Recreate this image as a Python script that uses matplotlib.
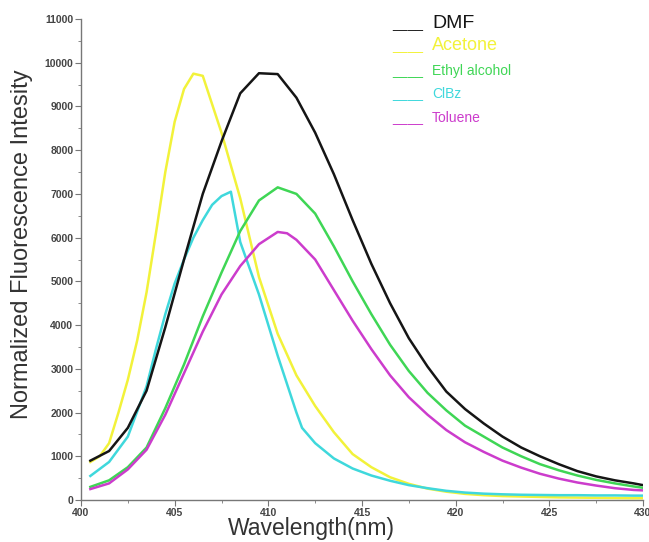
import matplotlib
matplotlib.use("Agg")
import matplotlib.pyplot as plt
from matplotlib.ticker import MultipleLocator

plt.rcParams['font.family'] = ['Liberation Sans', 'DejaVu Sans']

# ---------------- data ----------------
wl_dmf = [400.5, 401.5, 402.5, 403.5, 404.5, 405.5, 406.5, 407.5, 408.5, 409.5, 410.5,
          411.5, 412.5, 413.5, 414.5, 415.5, 416.5, 417.5, 418.5, 419.5, 420.5, 421.5,
          422.5, 423.5, 424.5, 425.5, 426.5, 427.5, 428.5, 429.5, 430.0]
dmf = [900, 1120, 1650, 2500, 3950, 5500, 7000, 8200, 9300, 9760, 9740,
       9200, 8400, 7450, 6400, 5400, 4500, 3700, 3050, 2480, 2080, 1750,
       1450, 1200, 1000, 820, 660, 540, 450, 380, 340]

wl_ace = [400.5, 401.0, 401.5, 402.0, 402.5, 403.0, 403.5, 404.0, 404.5, 405.0, 405.5,
          406.0, 406.5, 407.5, 408.5, 409.5, 410.5, 411.5, 412.5, 413.5, 414.5, 415.5,
          416.5, 417.5, 418.5, 419.5, 420.5, 421.5, 422.5, 423.5, 424.5, 425.5, 426.5,
          427.5, 428.5, 429.5, 430.0]
acetone = [870, 1000, 1300, 2000, 2750, 3650, 4750, 6100, 7500, 8650, 9400,
           9750, 9700, 8400, 6900, 5100, 3800, 2850, 2150, 1550, 1050, 750,
           520, 370, 260, 190, 140, 110, 90, 80, 70, 60, 55,
           50, 45, 40, 40]

wl_eth = [400.5, 401.5, 402.5, 403.5, 404.5, 405.5, 406.5, 407.5, 408.5, 409.5, 410.5,
          411.5, 412.5, 413.5, 414.5, 415.5, 416.5, 417.5, 418.5, 419.5, 420.5, 421.5,
          422.5, 423.5, 424.5, 425.5, 426.5, 427.5, 428.5, 429.5, 430.0]
ethanol = [300, 450, 750, 1200, 2100, 3100, 4200, 5200, 6150, 6850, 7150,
           7000, 6550, 5800, 5000, 4250, 3550, 2950, 2450, 2050, 1700, 1450,
           1200, 1000, 820, 680, 560, 460, 380, 310, 280]

wl_clbz = [400.5, 401.5, 402.5, 403.5, 404.0, 404.5, 405.0, 405.5, 406.0, 406.5, 407.0,
           407.5, 408.0, 408.5, 409.5, 410.5, 411.5, 411.8, 412.5, 413.5, 414.5, 415.5,
           416.5, 417.5, 418.5, 419.5, 420.5, 421.5, 422.5, 423.5, 424.5, 425.5, 426.5,
           427.5, 428.5, 429.5, 430.0]
clbz = [550, 870, 1450, 2600, 3450, 4250, 4950, 5500, 6000, 6400, 6750,
        6950, 7050, 5900, 4700, 3300, 2000, 1650, 1300, 950, 720, 560,
        440, 340, 270, 210, 170, 145, 130, 120, 115, 110, 110,
        105, 105, 100, 100]

wl_tol = [400.5, 401.5, 402.5, 403.5, 404.5, 405.5, 406.5, 407.5, 408.5, 409.5, 410.5,
          411.0, 411.5, 412.5, 413.5, 414.5, 415.5, 416.5, 417.5, 418.5, 419.5, 420.5,
          421.5, 422.5, 423.5, 424.5, 425.5, 426.5, 427.5, 428.5, 429.5, 430.0]
toluene = [250, 380, 700, 1150, 1950, 2900, 3850, 4700, 5350, 5850, 6130,
           6100, 5950, 5500, 4800, 4100, 3450, 2850, 2350, 1950, 1600, 1320,
           1100, 900, 740, 600, 490, 400, 330, 270, 230, 220]

names = ['DMF', 'Acetone', 'Ethyl alcohol', 'ClBz', 'Toluene']
colors = ['#151515', '#f2f23a', '#3fd655', '#3fd8dc', '#cc3ccc']
series = [(wl_dmf, dmf), (wl_ace, acetone), (wl_eth, ethanol), (wl_clbz, clbz), (wl_tol, toluene)]

# ---------------- figure ----------------
fig = plt.figure(figsize=(6.49, 5.42), dpi=100)
ax = fig.add_axes([81 / 649, 1 - 500 / 542, (643 - 81) / 649, (500 - 19) / 542])

draw_order = [1, 3, 0, 2, 4]
for i in draw_order:
    x, y = series[i]
    ax.plot(x, y, color=colors[i], lw=1.8, solid_joinstyle='round')

ax.set_xlim(400, 430)
ax.set_ylim(0, 11000)
ax.xaxis.set_major_locator(MultipleLocator(5))
ax.xaxis.set_minor_locator(MultipleLocator(2.5))
ax.yaxis.set_major_locator(MultipleLocator(1000))
ax.yaxis.set_minor_locator(MultipleLocator(500))

for s in ['top', 'right']:
    ax.spines[s].set_visible(False)
for s in ['left', 'bottom']:
    ax.spines[s].set_color('#777777')
    ax.spines[s].set_linewidth(1.0)

ax.tick_params(axis='both', which='major', direction='out', length=4, width=0.8,
               color='#777777', labelsize=7.5, labelcolor='#444444', pad=1.5)
ax.tick_params(axis='both', which='minor', direction='out', length=2, width=0.6,
               color='#777777')
for lab in ax.get_xticklabels() + ax.get_yticklabels():
    lab.set_fontweight('bold')

fig.text(311 / 649, 1 - 529 / 542, 'Wavelength(nm)', fontsize=16.5, color='#333333',
         ha='center', va='center')
fig.text(22 / 649, 1 - 244 / 542, 'Normalized Fluorescence Intesity', fontsize=17,
         color='#333333', ha='center', va='center', rotation=90)

# legend built as text, like the reference
leg_y = [28, 50, 75, 98, 122]
leg_size = [14, 13, 10, 10, 10]
for name, col, yy, fs in zip(names, colors, leg_y, leg_size):
    fig.text(392 / 649, 1 - yy / 542, '____', color='#222222' if name == 'DMF' else col,
             fontsize=10, ha='left', va='baseline')
    fig.text(432 / 649, 1 - yy / 542, name, color=col, fontsize=fs,
             ha='left', va='baseline')

fig.savefig('out.png', dpi=100)
